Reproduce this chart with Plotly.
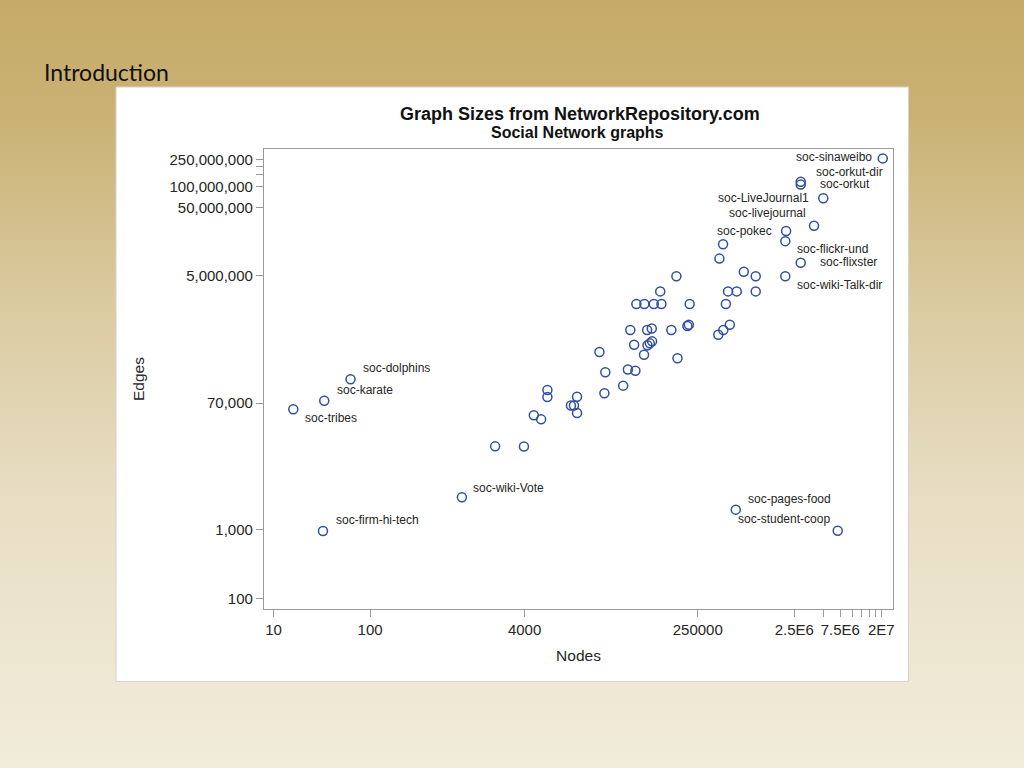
import math
import plotly.graph_objects as go

# ---------------- data ----------------
names = [
    "soc-sinaweibo", "soc-orkut-dir", "soc-orkut", "soc-LiveJournal1", "soc-livejournal",
    "soc-pokec", "soc-flickr-und", "", "", "soc-flixster",
    "", "", "soc-wiki-Talk-dir", "", "",
    "", "", "", "", "",
    "", "", "", "", "",
    "", "", "", "", "",
    "", "", "", "", "",
    "", "", "", "", "",
    "", "", "", "", "",
    "", "", "", "", "",
    "", "", "", "", "",
    "soc-wiki-Vote", "soc-firm-hi-tech", "soc-tribes", "soc-karate", "soc-dolphins",
    "soc-pages-food", "soc-student-coop",
]
nodes = [
    2.07e7, 2.92e6, 2.92e6, 5.0e6, 4.01e6,
    2.06e6, 2.02e6, 4.57e5, 4.19e5, 2.92e6,
    7.50e5, 9.97e5, 2.02e6, 1.50e5, 1.02e5,
    5.15e5, 6.34e5, 9.97e5, 5.77e4, 6.98e4,
    8.75e4, 1.05e5, 2.06e5, 4.89e5, 4.99e4,
    7.46e4, 8.34e4, 1.33e5, 1.95e5, 2.02e5,
    4.08e5, 4.60e5, 5.37e5, 5.47e4, 7.52e4,
    7.96e4, 8.40e4, 6.93e4, 1.54e5, 2.39e4,
    2.75e4, 4.71e4, 5.64e4, 4.21e4, 2.69e4,
    6.90e3, 6.90e3, 1.40e4, 1.21e4, 1.30e4,
    1.40e4, 4.99e3, 5.94e3, 3.94e3, 1.98e3,
    896, 32.5, 16.0, 33.5, 62.8,
    6.19e5, 7.06e6,
]
edges = [
    2.59e8, 1.18e8, 1.08e8, 6.78e7, 2.70e7,
    2.26e7, 1.61e7, 1.45e7, 8.96e6, 7.8e6,
    5.77e6, 4.94e6, 4.94e6, 4.94e6, 2.98e6,
    2.98e6, 2.98e6, 2.98e6, 1.95e6, 1.95e6,
    1.95e6, 1.95e6, 1.95e6, 1.95e6, 8.15e5,
    8.15e5, 8.57e5, 8.15e5, 9.31e5, 9.70e5,
    6.97e5, 8.15e5, 9.73e5, 4.98e5, 4.88e5,
    5.21e5, 5.57e5, 3.56e5, 3.15e5, 3.89e5,
    1.97e5, 2.16e5, 2.08e5, 1.26e5, 9.77e4,
    1.09e5, 8.59e4, 8.69e4, 6.46e4, 6.46e4,
    5.02e4, 4.66e4, 4.06e4, 1.63e4, 1.64e4,
    2970, 957, 5.69e4, 7.58e4, 1.56e5,
    1960, 966,
]

x_tick_vals = [10, 100, 4000, 250000, 2.5e6, 5e6, 7.5e6, 1e7, 1.25e7, 1.5e7, 1.75e7, 2e7]
x_tick_text = ["10", "100", "4000", "250000", "2.5E6", "", "7.5E6", "", "", "", "", "2E7"]
y_tick_vals = [100, 1000, 70000, 5e6, 5e7, 1e8, 1.5e8, 2e8, 2.5e8]
y_tick_text = ["100", "1,000", "70,000", "5,000,000", "50,000,000", "100,000,000", "", "", "250,000,000"]

title_text = "Graph Sizes from NetworkRepository.com"
subtitle_text = "Social Network graphs"
x_title = "Nodes"
y_title = "Edges"
slide_title = "Introduction"

# ---------------- styling ----------------
# label placement: (xanchor, xshift px, yshift px)
LABEL_POS = {
    "soc-sinaweibo": ("right", -9, 1),
    "soc-orkut-dir": ("left", 13, 10),
    "soc-orkut": ("left", 17, 0),
    "soc-LiveJournal1": ("right", -12, 0),
    "soc-livejournal": ("right", -6, 13),
    "soc-pokec": ("right", -12, 0),
    "soc-flickr-und": ("left", 10, -8),
    "soc-flixster": ("left", 17, 1),
    "soc-wiki-Talk-dir": ("left", 10, -9),
    "soc-wiki-Vote": ("left", 9, 9),
    "soc-firm-hi-tech": ("left", 11, 11),
    "soc-tribes": ("left", 10, -9),
    "soc-karate": ("left", 11, 11),
    "soc-dolphins": ("left", 10, 11),
    "soc-pages-food": ("left", 10, 11),
    "soc-student-coop": ("right", -6, 12),
}

W, H = 1024, 768
PL, PR, PT, PB = 264, 893, 149, 609  # plot area in pixels
FONT = "Liberation Sans, Arial, sans-serif"
MARK = "#2f4f9f"
AXIS = "#9a9a9a"
TXT = "#262626"


def px_x(px):
    return (px - PL) / (PR - PL)


def px_y(py):
    return (PB - py) / (PB - PT)


fig = go.Figure()
fig.add_trace(go.Scatter(
    x=nodes, y=edges, mode="markers", text=names,
    marker=dict(symbol="circle-open", size=9, color=MARK, line=dict(width=1.5, color=MARK)),
    hoverinfo="text+x+y", showlegend=False,
))

shapes = []
# slide background gradient
stops = [(0, (198, 171, 104)), (120, (202, 178, 117)), (300, (218, 202, 160)),
         (500, (232, 222, 196)), (768, (241, 236, 219))]


def grad(y):
    for (y0, c0), (y1, c1) in zip(stops[:-1], stops[1:]):
        if y0 <= y <= y1:
            t = (y - y0) / (y1 - y0)
            return tuple(round(a + (b - a) * t) for a, b in zip(c0, c1))
    return stops[-1][1]


step = 8
for y in range(0, H, step):
    c = grad(y + step / 2)
    shapes.append(dict(type="rect", xref="paper", yref="paper", layer="below",
                       x0=px_x(0), x1=px_x(W), y0=px_y(y + step + 0.5), y1=px_y(y),
                       fillcolor="rgb(%d,%d,%d)" % c, line=dict(width=0)))
# white picture panel
shapes.append(dict(type="rect", xref="paper", yref="paper", layer="below",
                   x0=px_x(116), x1=px_x(908.5), y0=px_y(681.5), y1=px_y(87),
                   fillcolor="white", line=dict(width=1, color="#d6d2cc")))

annotations = []
for n, xv, yv in zip(names, nodes, edges):
    if not n:
        continue
    xa, xs, ys = LABEL_POS[n]
    # log axes: annotation positions are given in log10 units
    annotations.append(dict(x=math.log10(xv), y=math.log10(yv), xref="x", yref="y",
                            text=n, showarrow=False, xanchor=xa, yanchor="middle",
                            xshift=xs, yshift=ys,
                            font=dict(family=FONT, size=12, color=TXT)))

annotations += [
    dict(x=px_x(579.5), y=px_y(114), xref="paper", yref="paper", text="<b>%s</b>" % title_text,
         showarrow=False, xanchor="center", yanchor="middle",
         font=dict(family=FONT, size=18, color="#111111")),
    dict(x=px_x(577), y=px_y(132), xref="paper", yref="paper", text="<b>%s</b>" % subtitle_text,
         showarrow=False, xanchor="center", yanchor="middle",
         font=dict(family=FONT, size=16, color="#111111")),
    dict(x=px_x(42), y=px_y(72), xref="paper", yref="paper", text=slide_title,
         showarrow=False, xanchor="left", yanchor="middle",
         font=dict(family="Lato, Open Sans, sans-serif", size=23, color="#111111")),
]

axis_common = dict(
    type="log", showgrid=False, zeroline=False, showline=True, mirror=True,
    linecolor=AXIS, linewidth=1.2, ticks="outside", ticklen=7, tickwidth=1, tickcolor=AXIS,
    tickfont=dict(family=FONT, size=15, color=TXT),
    title_font=dict(family=FONT, size=15.5, color=TXT),
)

fig.update_layout(
    width=W, height=H, autosize=False,
    margin=dict(l=PL, r=W - PR, t=PT, b=H - PB, pad=0),
    paper_bgcolor="rgb(241,236,219)", plot_bgcolor="white",
    shapes=shapes, annotations=annotations,
    xaxis=dict(axis_common, range=[0.9005, 7.422], tickmode="array",
               tickvals=x_tick_vals, ticktext=x_tick_text,
               title=dict(text=x_title, standoff=13)),
    yaxis=dict(axis_common, range=[1.844, 8.550], tickmode="array",
               tickvals=y_tick_vals, ticktext=y_tick_text,
               title=dict(text=y_title, standoff=21)),
    hovermode="closest",
)

fig.write_html("out.html", config={"displayModeBar": False},
               post_script="document.body.style.margin='0';document.body.style.overflow='hidden';")
